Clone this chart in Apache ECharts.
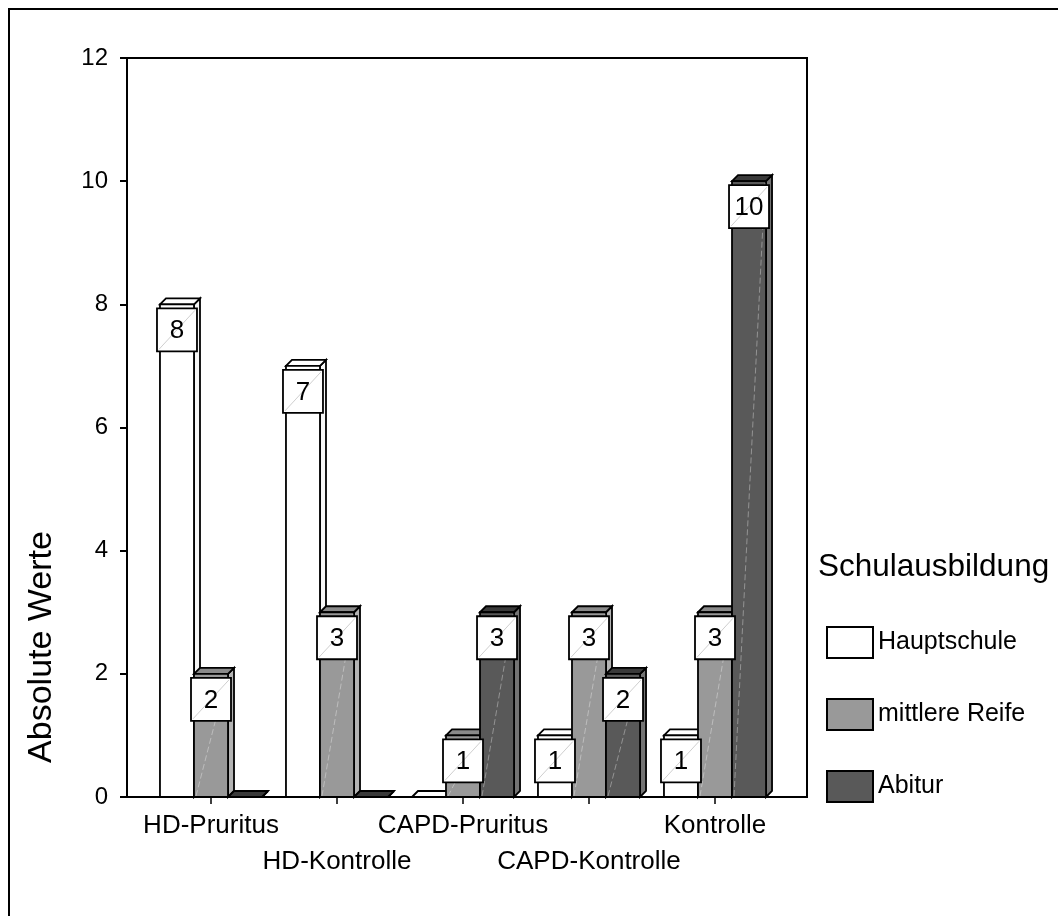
<!DOCTYPE html>
<html>
<head>
<meta charset="utf-8">
<script src="https://cdn.jsdelivr.net/npm/echarts@6/dist/echarts.min.js"></script>
<style>
  html, body { margin: 0; padding: 0; background: #fff; }
  #chart { width: 1058px; height: 916px; }
</style>
</head>
<body>
<div id="chart"></div>
<script>
// Schulausbildung nach Gruppe (absolute Werte)
const categories = ['HD-Pruritus', 'HD-Kontrolle', 'CAPD-Pruritus', 'CAPD-Kontrolle', 'Kontrolle'];
const hauptschule = [8, 7, 0, 1, 1];
const mittlereReife = [2, 3, 1, 3, 3];
const abitur = [0, 0, 3, 2, 10];
const seriesNames = ['Hauptschule', 'mittlere Reife', 'Abitur'];
const yMin = 0, yMax = 12, yStep = 2;

const FONT = 'Liberation Sans, Arial, Helvetica, sans-serif';

// front / side / top face colours of each series
const faces = [
  { front: '#ffffff', side: '#f6f6f6', top: '#ffffff' },
  { front: '#999999', side: '#b4b4b4', top: '#8a8a8a' },
  { front: '#595959', side: '#747474', top: '#3a3a3a' }
];

// pseudo-3D bar: front rectangle, right side face, top face, value box
function makeRender(idx) {
  return function (params, api) {
    const cat = api.value(0);
    const val = api.value(1);
    const top = api.coord([cat, val]);
    const base = api.coord([cat, 0]);
    const band = api.size([1, 0])[0];
    const w = band * 0.27;
    const x0 = top[0] - 1.5 * w + idx * w;
    const yT = top[1], yB = base[1];
    const d = 6;
    const f = faces[idx];
    const line = { stroke: '#000', lineWidth: 1.8 };
    const zb = idx * 10;
    const children = [
      {
        type: 'polygon', z2: zb + 1,
        shape: { points: [[x0 + w, yT], [x0 + w + d, yT - d], [x0 + w + d, yB - d], [x0 + w, yB]] },
        style: Object.assign({ fill: f.side }, line)
      },
      {
        type: 'polygon', z2: zb + 2,
        shape: { points: [[x0, yT], [x0 + d, yT - d], [x0 + w + d, yT - d], [x0 + w, yT]] },
        style: Object.assign({ fill: f.top }, line)
      }
    ];
    if (val > 0) {
      children.push({
        type: 'rect', z2: zb + 3,
        shape: { x: x0, y: yT, width: w, height: yB - yT },
        style: Object.assign({ fill: f.front }, line)
      });
      children.push({
        type: 'line', z2: zb + 4,
        shape: { x1: x0 + 2, y1: yB - 1, x2: x0 + w - 1, y2: yT + 2 },
        style: { stroke: '#ffffff', lineWidth: 1, opacity: idx === 0 ? 0 : 0.35, lineDash: [6, 3] }
      });
      const cx = x0 + w / 2;
      const bw = 40, bh = 43;
      const by = yT + 4;
      children.push({
        type: 'rect', z2: 100,
        shape: { x: cx - bw / 2, y: by, width: bw, height: bh },
        style: { fill: '#fff', stroke: '#000', lineWidth: 1.8 }
      });
      children.push({
        type: 'line', z2: 101,
        shape: { x1: cx - bw / 2 + 2, y1: by + bh - 2, x2: cx + bw / 2 - 2, y2: by + 2 },
        style: { stroke: '#cfcfcf', lineWidth: 1 }
      });
      children.push({
        type: 'text', z2: 102,
        style: {
          text: String(val), x: cx, y: by + bh / 2 + 1,
          align: 'center', verticalAlign: 'middle',
          font: '26px ' + FONT, fill: '#000'
        }
      });
    }
    return { type: 'group', children: children };
  };
}

const seriesData = [hauptschule, mittlereReife, abitur];

const chart = echarts.init(document.getElementById('chart'), null, { renderer: 'canvas' });
chart.setOption({
  animation: false,
  backgroundColor: '#fff',
  textStyle: { fontFamily: FONT },
  title: {
    text: 'Schulausbildung',
    left: 818, top: 551,
    padding: 0,
    textStyle: { fontSize: 31.5, fontWeight: 'normal', color: '#000', fontFamily: FONT }
  },
  legend: {
    orient: 'vertical',
    left: 826, top: 626,
    padding: 0,
    itemWidth: 46, itemHeight: 31, itemGap: 39,
    textStyle: { fontSize: 25, color: '#000', fontFamily: FONT },
    data: seriesNames.map((n, i) => ({
      name: n, icon: 'rect',
      itemStyle: { color: faces[i].front, borderColor: '#000', borderWidth: 2 }
    }))
  },
  grid: [
    { left: 127, top: 58, width: 680, height: 739, show: true, borderColor: '#000', borderWidth: 2, backgroundColor: 'transparent' },
    { left: 148, top: 58, width: 630, height: 739 }
  ],
  xAxis: [
    { gridIndex: 0, type: 'value', min: 0, max: 1, show: false },
    {
      gridIndex: 1, type: 'category', data: categories,
      axisLine: { show: false },
      axisTick: { show: true, alignWithLabel: true, length: 7, lineStyle: { color: '#000', width: 1.5 } },
      axisLabel: {
        color: '#000', fontSize: 26, lineHeight: 36, margin: 11, interval: 0, fontFamily: FONT,
        formatter: (v, i) => (i % 2 === 1 ? '\n' + v : v)
      }
    }
  ],
  yAxis: [
    {
      gridIndex: 0, type: 'value', min: yMin, max: yMax, interval: yStep,
      axisLine: { show: true, lineStyle: { color: '#000', width: 2 } },
      axisTick: { show: true, length: 7, lineStyle: { color: '#000', width: 2 } },
      axisLabel: { color: '#000', fontSize: 24, margin: 19, fontFamily: FONT },
      splitLine: { show: false }
    },
    { gridIndex: 1, type: 'value', min: yMin, max: yMax, interval: yStep, show: false }
  ],
  graphic: [
    {
      type: 'rect', silent: true,
      shape: { x: 9, y: 9, width: 1200, height: 1200 },
      style: { fill: 'none', stroke: '#000', lineWidth: 2 }
    },
    {
      type: 'text', silent: true,
      x: 42, y: 647, rotation: Math.PI / 2,
      style: {
        text: 'Absolute Werte', align: 'center', verticalAlign: 'middle',
        font: '34px ' + FONT, fill: '#000'
      }
    }
  ],
  series: seriesData.map((vals, i) => ({
    type: 'custom',
    name: seriesNames[i],
    xAxisIndex: 1, yAxisIndex: 1,
    z: 2,
    itemStyle: { color: faces[i].front },
    renderItem: makeRender(i),
    encode: { x: 0, y: 1 },
    data: vals.map((v, k) => [k, v])
  }))
});
</script>
</body>
</html>
